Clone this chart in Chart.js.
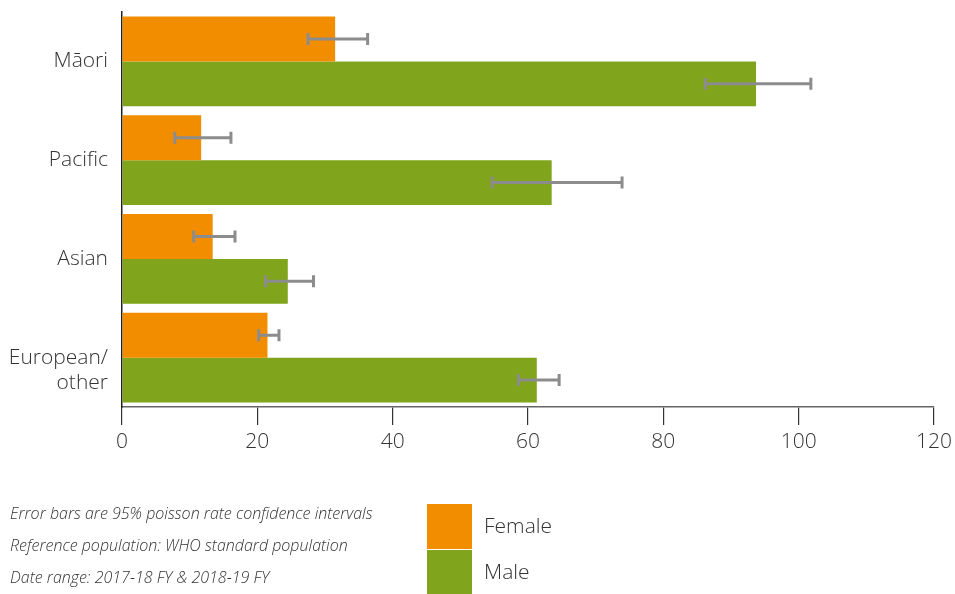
<!DOCTYPE html>
<html>
<head>
<meta charset="utf-8">
<script src="https://cdn.jsdelivr.net/npm/chart.js@4.4.1/dist/chart.umd.min.js"></script>
<style>
  html, body { margin: 0; padding: 0; background: #fff; }
  #wrap { position: relative; width: 955px; height: 594px; }
</style>
</head>
<body>
<div id="wrap"><canvas id="chart" width="955" height="594"></canvas></div>
<script>
var categories = ["Māori", "Pacific", "Asian", ["", "European/", "other"]];
var seriesNames = ["Female", "Male"];
var female = [31.5, 11.7, 13.4, 21.5];
var male = [93.7, 63.5, 24.5, 61.3];
var femaleLow = [27.5, 7.8, 10.6, 20.2];
var femaleHigh = [36.3, 16.1, 16.7, 23.2];
var maleLow = [86.2, 54.7, 21.2, 58.6];
var maleHigh = [101.8, 73.9, 28.3, 64.6];
var xTicks = [0, 20, 40, 60, 80, 100, 120];
var notes = [
  "Error bars are 95% poisson rate confidence intervals",
  "Reference population: WHO standard population",
  "Date range: 2017-18 FY & 2018-19 FY"
];

var orange = "#f28d00";
var green = "#80a51c";
var errGray = "#8c8c8c";
var textColor = "#333333";
var fontFamily = "'Open Sans', 'Noto Sans', sans-serif";

// error bars drawn on top of each bar
var errorBars = {
  id: "errorBars",
  afterDatasetsDraw: function(chart) {
    var ctx = chart.ctx;
    var xs = chart.scales.x;
    chart.data.datasets.forEach(function(ds, i) {
      var meta = chart.getDatasetMeta(i);
      meta.data.forEach(function(bar, j) {
        var x1 = xs.getPixelForValue(ds.errLow[j]);
        var x2 = xs.getPixelForValue(ds.errHigh[j]);
        var y = bar.y;
        ctx.save();
        ctx.strokeStyle = errGray;
        ctx.lineWidth = 3;
        ctx.beginPath();
        ctx.moveTo(x1, y); ctx.lineTo(x2, y);
        ctx.moveTo(x1, y - 6); ctx.lineTo(x1, y + 6);
        ctx.moveTo(x2, y - 6); ctx.lineTo(x2, y + 6);
        ctx.stroke();
        ctx.restore();
      });
    });
  }
};

// legend boxes + footnotes below the axis
var bottomBlock = {
  id: "bottomBlock",
  afterDraw: function(chart) {
    var ctx = chart.ctx;
    ctx.save();
    ctx.fillStyle = textColor;
    ctx.font = "italic 300 16px " + fontFamily;
    ctx.textBaseline = "middle";
    ctx.textAlign = "left";
    notes.forEach(function(t, i) {
      ctx.fillText(t, 10, 514 + i * 32);
    });
    chart.data.datasets.forEach(function(ds, i) {
      var top = 504 + i * 46;
      ctx.fillStyle = ds.backgroundColor;
      ctx.fillRect(427, top, 45, 45);
      ctx.fillStyle = textColor;
      ctx.font = "300 21px " + fontFamily;
      ctx.fillText(ds.label, 484, top + 23);
    });
    ctx.restore();
  }
};

new Chart(document.getElementById("chart"), {
  type: "bar",
  data: {
    labels: categories,
    datasets: [
      { label: seriesNames[0], data: female, errLow: femaleLow, errHigh: femaleHigh,
        backgroundColor: orange, barPercentage: 1.0, categoryPercentage: 0.91 },
      { label: seriesNames[1], data: male, errLow: maleLow, errHigh: maleHigh,
        backgroundColor: green, barPercentage: 1.0, categoryPercentage: 0.91 }
    ]
  },
  options: {
    indexAxis: "y",
    responsive: false,
    animation: false,
    layout: { padding: { top: 12, right: 21, left: 0, bottom: 0 } },
    plugins: { legend: { display: false }, tooltip: { enabled: false } },
    scales: {
      x: {
        min: 0, max: 120,
        afterBuildTicks: function(scale) {
          scale.ticks = xTicks.map(function(v) { return { value: v }; });
        },
        afterFit: function(scale) {
          scale.height = 187;
          scale.paddingLeft = 0;
          scale.paddingRight = 0;
        },
        grid: { drawOnChartArea: false, drawTicks: true, tickLength: 18, color: "#333", lineWidth: 1.2 },
        border: { color: "#666", width: 1.5 },
        ticks: { color: textColor, padding: 4, font: { family: fontFamily, size: 21, weight: "300" } }
      },
      y: {
        afterFit: function(scale) {
          scale.width = 122;
          scale.paddingTop = 0;
          scale.paddingBottom = 0;
        },
        grid: { display: false, drawTicks: false },
        border: { color: "#222", width: 1.5 },
        ticks: { color: textColor, padding: 14, font: { family: fontFamily, size: 21, weight: "300" } }
      }
    }
  },
  plugins: [errorBars, bottomBlock]
});
</script>
</body>
</html>
